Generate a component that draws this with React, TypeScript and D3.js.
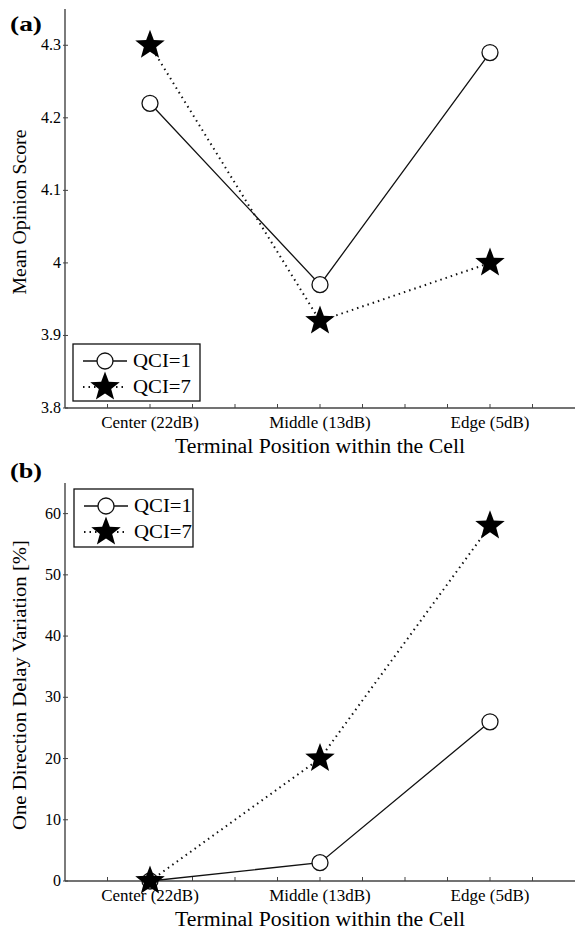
import React from "react";
import * as d3 from "d3";

const categories = ["Center (22dB)", "Middle (13dB)", "Edge (5dB)"];
const seriesNames = ["QCI=1", "QCI=7"];
const mosQci1 = [4.22, 3.97, 4.29];
const mosQci7 = [4.3, 3.92, 4.0];
const delayQci1 = [0, 3, 26];
const delayQci7 = [0, 20, 58];
const mosTicks = [3.8, 3.9, 4.0, 4.1, 4.2, 4.3];
const delayTicks = [0, 10, 20, 30, 40, 50, 60];

const FONT = "'Liberation Serif', 'DejaVu Serif', serif";
const AXIS_COLOR = "#444";

function starPath(R: number) {
  const r = R * 0.42;
  const pts: [number, number][] = [];
  for (let i = 0; i < 10; i++) {
    const a = -Math.PI / 2 + (i * Math.PI) / 5;
    const rad = i % 2 === 0 ? R : r;
    pts.push([rad * Math.cos(a), rad * Math.sin(a)]);
  }
  return "M" + pts.map((p) => p[0].toFixed(2) + "," + p[1].toFixed(2)).join("L") + "Z";
}

const STAR = starPath(15.5);

type PanelProps = {
  label: string;
  labelY: number;
  yLabel: string;
  yLabelLen: number;
  yDomain: [number, number];
  yRange: [number, number];
  ticks: number[];
  fmt: (v: number) => string;
  s1: number[];
  s7: number[];
  legend: { x: number; y: number; w: number; h: number };
  yLabelCenter: number;
};

function Panel(p: PanelProps) {
  const x = d3.scaleLinear().domain([0.5, 3.5]).range([65, 575]);
  const y = d3.scaleLinear().domain(p.yDomain).range(p.yRange);
  const xTicks = d3.range(0.75, 3.5, 0.25);
  const line = d3
    .line<number>()
    .x((_, i) => x(i + 1))
    .y((v) => y(v));
  const y0 = p.yRange[0];
  const yTop = p.yRange[1];
  const L = p.legend;
  return (
    <g>
      <text
        x={10}
        y={p.labelY}
        fontFamily={FONT}
        fontWeight="bold"
        fontSize={22}
        textLength={32}
        lengthAdjust="spacingAndGlyphs"
      >
        {p.label}
      </text>
      <line x1={x(0.5)} x2={575} y1={y0} y2={y0} stroke={AXIS_COLOR} strokeWidth={1.4} />
      <line x1={x(0.5)} x2={x(0.5)} y1={y0} y2={yTop} stroke={AXIS_COLOR} strokeWidth={1.4} />
      {xTicks.map((t) => (
        <line key={t} x1={x(t)} x2={x(t)} y1={y0} y2={y0 - 4} stroke={AXIS_COLOR} strokeWidth={1} />
      ))}
      {p.ticks.map((t) => (
        <g key={t}>
          <line x1={x(0.5) - 2} x2={x(0.5) + 3} y1={y(t)} y2={y(t)} stroke={AXIS_COLOR} strokeWidth={1} />
          <text x={x(0.5) - 4} y={y(t) + 5} textAnchor="end" fontFamily={FONT} fontSize={16}>
            {p.fmt(t)}
          </text>
        </g>
      ))}
      {categories.map((c, i) => (
        <text key={c} x={x(i + 1)} y={y0 + 20} textAnchor="middle" fontFamily={FONT} fontSize={17}>
          {c}
        </text>
      ))}
      <text
        x={320}
        y={y0 + 45}
        textAnchor="middle"
        fontFamily={FONT}
        fontSize={20}
        textLength={290}
        lengthAdjust="spacingAndGlyphs"
      >
        Terminal Position within the Cell
      </text>
      <text
        transform={`translate(26,${p.yLabelCenter}) rotate(-90)`}
        textAnchor="middle"
        fontFamily={FONT}
        fontSize={19}
        textLength={p.yLabelLen}
        lengthAdjust="spacingAndGlyphs"
      >
        {p.yLabel}
      </text>
      <path d={line(p.s1) || ""} fill="none" stroke="#111" strokeWidth={1.3} />
      <path d={line(p.s7) || ""} fill="none" stroke="#111" strokeWidth={2} strokeDasharray="1.5,4" />
      {p.s1.map((v, i) => (
        <circle key={i} cx={x(i + 1)} cy={y(v)} r={8} fill="#fff" stroke="#111" strokeWidth={1.3} />
      ))}
      {p.s7.map((v, i) => (
        <path key={i} d={STAR} transform={`translate(${x(i + 1)},${y(v)})`} fill="#000" />
      ))}
      <rect x={L.x} y={L.y} width={L.w} height={L.h} fill="#fff" stroke="#111" strokeWidth={1.3} />
      {seriesNames.map((s, i) => {
        const ly = L.y + 17 + i * 26;
        return (
          <g key={s}>
            <line
              x1={L.x + 10}
              x2={L.x + 54}
              y1={ly}
              y2={ly}
              stroke="#111"
              strokeWidth={i === 0 ? 1.3 : 2}
              strokeDasharray={i === 0 ? undefined : "1.5,4"}
            />
            {i === 0 ? (
              <circle cx={L.x + 32} cy={ly} r={8} fill="#fff" stroke="#111" strokeWidth={1.3} />
            ) : (
              <path d={STAR} transform={`translate(${L.x + 32},${ly})`} fill="#000" />
            )}
            <text
              x={L.x + 60}
              y={ly + 6}
              fontFamily={FONT}
              fontSize={18}
              textLength={58}
              lengthAdjust="spacingAndGlyphs"
            >
              {s}
            </text>
          </g>
        );
      })}
    </g>
  );
}

export default function App() {
  return (
    <svg
      width={575}
      height={929}
      style={{ position: "absolute", left: 0, top: 0, background: "#fff" }}
    >
      <rect width={575} height={929} fill="#fff" />
      <Panel
        label="(a)"
        labelY={31}
        yLabel="Mean Opinion Score"
        yLabelLen={165}
        yDomain={[3.8, 4.35]}
        yRange={[408, 9]}
        ticks={mosTicks}
        fmt={(v) => d3.format("~g")(+v.toFixed(1))}
        s1={mosQci1}
        s7={mosQci7}
        legend={{ x: 73, y: 344, w: 127, h: 57 }}
        yLabelCenter={212}
      />
      <Panel
        label="(b)"
        labelY={478}
        yLabel="One Direction Delay Variation [%]"
        yLabelLen={290}
        yDomain={[0, 65]}
        yRange={[881, 483]}
        ticks={delayTicks}
        fmt={(v) => String(v)}
        s1={delayQci1}
        s7={delayQci7}
        legend={{ x: 74, y: 489, w: 119, h: 58 }}
        yLabelCenter={685}
      />
    </svg>
  );
}
